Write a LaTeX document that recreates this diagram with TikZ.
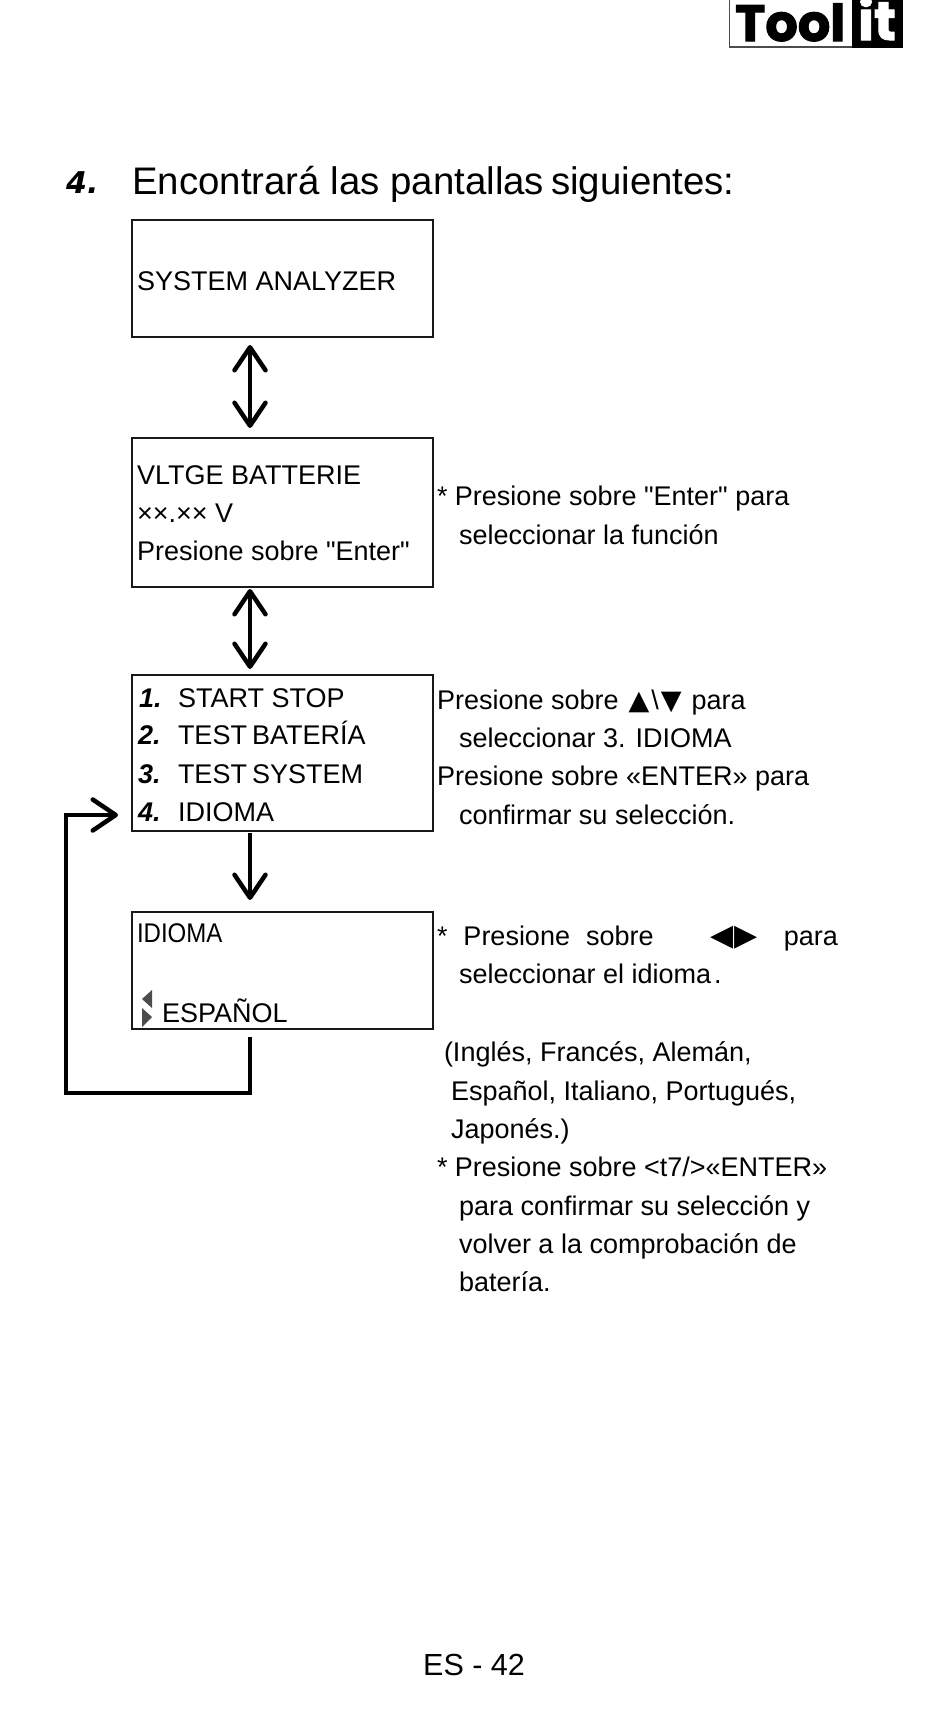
\documentclass[tikz,border=0pt]{standalone}
\usepackage{fontspec}
\setmainfont{Liberation Sans}[Ligatures=TeXOff]
\newfontfamily\symfont{DejaVu Sans}
\newfontfamily\logofont{Poppins}
\usetikzlibrary{arrows.meta,calc}
\newcommand{\body}{\fontsize{27}{33}\selectfont}
\newcommand{\num}{\fontsize{27}{33}\selectfont\bfseries\itshape}
\newcommand{\tri}{\symfont\fontsize{27}{27}\selectfont}
\newcommand{\trib}{\symfont\fontsize{30}{30}\selectfont}
\tikzset{
  x=1pt,y=-1pt,
  screen/.style={draw=black!90,line width=1.8pt,minimum width=0pt,inner sep=0pt,outer sep=0pt},
  txt/.style={anchor=base west,inner sep=0pt,outer sep=0pt,font=\body,text=black},
  vee/.tip={Straight Barb[length=23pt,width=31pt,line width=4.5pt,round]},
  flow/.style={line width=3.4pt,draw=black},
  flowthick/.style={line width=3.8pt,draw=black,line join=miter},
}
\begin{document}
\begin{tikzpicture}
\useasboundingbox (0,0) rectangle (950,1714);
\fill[white] (0,0) rectangle (950,1714);
% logo
\draw[black!70,line width=1.2pt] (729.5,0) -- (729.5,47) -- (852,47);
\fill[black] (852,0) rectangle (903,47.5);
\node[anchor=base west,inner sep=0pt,font=\fontsize{51}{51}\selectfont\logofont\bfseries\addfontfeature{FakeBold=2}] (logoa) at (735,41) {Tool};
\node[anchor=base,inner sep=0pt,text=white,font=\fontsize{54}{54}\selectfont\logofont\bfseries\addfontfeature{FakeBold=2}] (logob) at (877,40) {it};
% title
\node[anchor=base west,inner sep=0pt,font=\fontsize{30}{30}\selectfont\symfont\bfseries\itshape] (tnum) at (66,193) {4.};
\node[anchor=base west,inner sep=0pt,font=\fontsize{38.4}{40}\selectfont,text=black] (title) at (132,194) {Encontrará las pantallas\hspace{7pt}siguientes:};
% boxes
\coordinate (ax) at (250,0);
\node[screen,anchor=north west,minimum width=301pt,minimum height=117pt] (b1) at (132,220) {};
\node[screen,anchor=north west,minimum width=301pt,minimum height=149pt] (b2) at (132,438) {};
\node[screen,anchor=north west,minimum width=301pt,minimum height=156pt] (b3) at (132,675) {};
\node[screen,anchor=north west,minimum width=301pt,minimum height=117pt] (b4) at (132,912) {};
% box text
\node[txt] (t1) at (137,290) {SYSTEM ANALYZER};
\node[txt] (t2a) at (137,484) {VLTGE BATTERIE};
\node[txt] (t2b) at (137,522) {××.×× V};
\node[txt] (t2c) at (137,560) {Presione sobre "Enter"};
\node[txt,font=\num] (n1) at (139,707) {1.};
\node[txt] (t3a) at (178,707) {START STOP};
\node[txt,font=\num] (n2) at (138,744) {2.};
\node[txt] (t3b) at (178,744) {TEST\hspace{5pt}BATERÍA};
\node[txt,font=\num] (n3) at (138,783) {3.};
\node[txt] (t3c) at (178,783) {TEST\hspace{5pt}SYSTEM};
\node[txt,font=\num] (n4) at (138,821) {4.};
\node[txt] (t3d) at (178,821) {IDIOMA};
\node[txt] (t4a) at (137,942) {\addfontfeature{FakeStretch=0.89}IDIOMA};
\node[txt] (t4b) at (162,1022) {ESPAÑOL};
\fill[black!70] (152,990) -- (142,999) -- (152,1008) -- cycle;
\fill[black!70] (142,1008) -- (152,1017) -- (142,1027) -- cycle;
% right text
\node[txt] (r1) at (437,505) {* Presione sobre "Enter" para};
\node[txt] (r2) at (459,544) {seleccionar la función};
\node[txt] (r3) at (437,709) {Presione sobre\hspace{10pt}{\tri ▲}\hspace{2pt}\textbackslash\hspace{2pt}{\tri ▼}\hspace{10pt}para};
\node[txt] (r4) at (459,747) {seleccionar 3. IDIOMA};
\node[txt] (r5) at (437,785) {Presione sobre «ENTER» para};
\node[txt] (r6) at (459,824) {confirmar su selección.};
\node[txt] (r7) at (437,945) {*\hspace{16pt}Presione\hspace{16pt}sobre\hspace{57pt}{\trib ◀\hspace{1pt}▶}\hspace{26pt}para};
\node[txt] (r8) at (459,983) {seleccionar el idioma\hspace{3pt}.};
\node[txt] (r9) at (444,1061) {(Inglés, Francés, Alemán,};
\node[txt] (r10) at (451,1100) {Español, Italiano, Portugués,};
\node[txt] (r11) at (451,1138) {Japonés.)};
\node[txt] (r12) at (437,1176) {* Presione sobre <t7/>«ENTER»};
\node[txt] (r13) at (459,1215) {para confirmar su selección y};
\node[txt] (r14) at (459,1253) {volver a la comprobación de};
\node[txt] (r15) at (459,1291) {batería.};
% footer
\node[anchor=base west,inner sep=0pt,font=\fontsize{30.5}{31}\selectfont,text=black] (foot) at (423,1675) {ES - 42};
% connectors
\draw[flow,vee-vee,shorten <=8pt,shorten >=10pt] (b1.south -| ax) -- (b2.north -| ax);
\draw[flow,vee-vee,shorten <=2pt,shorten >=6pt] (b2.south -| ax) -- (b3.north -| ax);
\draw[flow,-vee,shorten <=2pt,shorten >=12pt] (b3.south -| ax) -- (b4.north -| ax);
\coordinate (ret) at (66,815);
\coordinate (retb) at (66,1093);
\draw[flowthick,-vee,shorten <=8pt] (b4.south -| ax) -- (retb -| ax) -- (retb) -- (ret) -- (118,815);
\end{tikzpicture}
\end{document}
